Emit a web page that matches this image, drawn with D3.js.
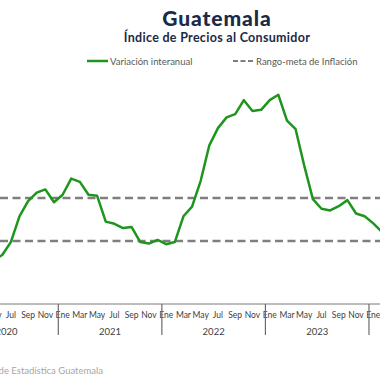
<!DOCTYPE html>
<html>
<head>
<meta charset="utf-8">
<script src="https://cdn.jsdelivr.net/npm/d3@7"></script>
<style>
  html, body { margin: 0; padding: 0; background: #fff; }
  svg { display: block; overflow: hidden; font-family: "Lato", "Open Sans", sans-serif; }
</style>
</head>
<body>
<svg id="chart" width="380" height="380"></svg>
<script>
// Years and month labels on the x axis
const years = [2020, 2021, 2022, 2023, 2024];
const monthNames = ["Ene", "Feb", "Mar", "Abr", "May", "Jun", "Jul", "Ago", "Sep", "Oct", "Nov", "Dic"];
const shownMonths = ["Ene", "Mar", "May", "Jul", "Sep", "Nov"];

// Interannual variation (%), starting May 2020
const seriesStart = { year: 2020, month: 4 };
const inflation = [
  2.10, 2.35, 2.95, 4.15, 4.85, 5.25, 5.40, 4.80,   // 2020 May-Dec
  5.15, 5.90, 5.75, 5.15, 5.10, 3.90, 3.80, 3.60, 3.65, 2.95, 2.88, 3.05, // 2021
  2.85, 2.95, 4.15, 4.60, 5.80, 7.45, 8.25, 8.75, 8.90, 9.55, 9.05, 9.10, // 2022
  9.55, 9.80, 8.60, 8.20, 6.50, 4.95, 4.50, 4.42, 4.62, 4.90, 4.28, 4.15, // 2023
  3.82, 3.42                                          // 2024 Jan-Feb
];

// Inflation target range
const targetRange = [3, 5];

const svg = d3.select("#chart");
const width = 380;

// Build month keys for the band scale
const months = [];
years.forEach(y => monthNames.forEach((m, i) => months.push({ key: `${y}-${i}`, year: y, month: i, name: m })));

const step = 8.63;
const x0 = 58.3 - 12 * step;
const x = d3.scaleBand()
  .domain(months.map(d => d.key))
  .range([x0, x0 + months.length * step])
  .padding(0);

const y = d3.scaleLinear()
  .domain([0, 10])
  .range([305.5, 90.5]);

const points = inflation.map((v, i) => {
  const idx = seriesStart.year * 12 + seriesStart.month + i;
  const yr = Math.floor(idx / 12);
  const mo = idx % 12;
  return { key: `${yr}-${mo}`, value: v };
});

// Title
svg.append("text")
  .attr("x", 217).attr("y", 26)
  .attr("text-anchor", "middle")
  .attr("font-size", 21).attr("font-weight", 900)
  .attr("letter-spacing", 0.9)
  .attr("fill", "#1b2a47")
  .text("Guatemala");

svg.append("text")
  .attr("x", 217).attr("y", 42)
  .attr("text-anchor", "middle")
  .attr("font-size", 12.5).attr("font-weight", 700)
  .attr("letter-spacing", 0.3)
  .attr("fill", "#1b2a47")
  .text("Índice de Precios al Consumidor");

// Legend
const legend = svg.append("g").attr("font-size", 9.5).attr("fill", "#595959");
legend.append("line")
  .attr("x1", 87).attr("x2", 108).attr("y1", 61).attr("y2", 61)
  .attr("stroke", "#1e961e").attr("stroke-width", 2.5);
legend.append("text").attr("x", 110).attr("y", 64.5).text("Variación interanual");
legend.append("line")
  .attr("x1", 233).attr("x2", 254).attr("y1", 61).attr("y2", 61)
  .attr("stroke", "#7f7f7f").attr("stroke-width", 2)
  .attr("stroke-dasharray", "5,2.5");
legend.append("text").attr("x", 256).attr("y", 64.5).text("Rango-meta de Inflación");

// Target range dashed lines
svg.append("g").selectAll("line")
  .data(targetRange)
  .join("line")
  .attr("x1", 0).attr("x2", width)
  .attr("y1", d => y(d)).attr("y2", d => y(d))
  .attr("stroke", "#7f7f7f")
  .attr("stroke-width", 2.5)
  .attr("stroke-dasharray", "8,4.5");

// Series line
const line = d3.line()
  .x(d => x(d.key) + x.bandwidth() / 2)
  .y(d => y(d.value));

svg.append("path")
  .datum(points)
  .attr("fill", "none")
  .attr("stroke", "#1e961e")
  .attr("stroke-width", 2.5)
  .attr("stroke-linejoin", "round")
  .attr("d", line);

// X axis
const axisY = y(0) - 1.5;
svg.append("line")
  .attr("x1", x0).attr("x2", x0 + months.length * step)
  .attr("y1", axisY).attr("y2", axisY)
  .attr("stroke", "#a6a6a6").attr("stroke-width", 1.5);

const axis = svg.append("g").attr("font-size", 8.5).attr("fill", "#404040");

axis.selectAll(".month")
  .data(months.filter(d => shownMonths.includes(d.name)))
  .join("text")
  .attr("class", "month")
  .attr("x", d => x(d.key) + x.bandwidth() / 2)
  .attr("y", 318)
  .attr("text-anchor", "middle")
  .text(d => d.name);

axis.selectAll(".year")
  .data(years)
  .join("text")
  .attr("class", "year")
  .attr("x", d => x(`${d}-0`) + 6 * step)
  .attr("y", 335)
  .attr("text-anchor", "middle")
  .attr("font-size", 9.5)
  .text(d => d);

axis.selectAll(".sep")
  .data(years.slice(1))
  .join("line")
  .attr("class", "sep")
  .attr("x1", d => x(`${d}-0`)).attr("x2", d => x(`${d}-0`))
  .attr("y1", axisY).attr("y2", 335)
  .attr("stroke", "#6b6b6b").attr("stroke-width", 1.2);

// Source note
svg.append("text")
  .attr("x", 103).attr("y", 374)
  .attr("text-anchor", "end")
  .attr("font-size", 9.5)
  .attr("fill", "#a6a6a6")
  .text("Fuente: Instituto Nacional de Estadística Guatemala");
</script>
</body>
</html>
